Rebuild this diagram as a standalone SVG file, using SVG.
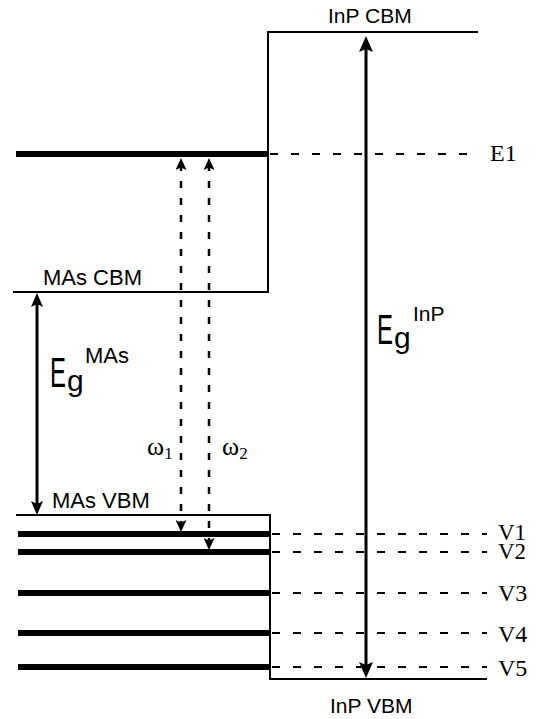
<svg xmlns="http://www.w3.org/2000/svg" width="540" height="719" viewBox="0 0 540 719">
<style>
.sans{font-family:"Liberation Sans",Arial,sans-serif;fill:#000}
.serif{font-family:"Liberation Serif","Times New Roman",serif;fill:#000}
.band{fill:none;stroke:#000;stroke-width:2}
.level{stroke:#000;stroke-width:6}
.dash{stroke:#000;stroke-width:2;stroke-dasharray:8 13}
.gap{stroke:#000;stroke-width:3;fill:none}
.omega{stroke:#000;stroke-width:2.5;stroke-dasharray:7 10;fill:none}
</style>
<defs>
<marker id="ahBig" viewBox="0 0 16 14" refX="8" refY="7" markerWidth="16" markerHeight="14" markerUnits="userSpaceOnUse" orient="auto-start-reverse">
<path d="M0,0 L16,7 L0,14 L3,7 z" fill="#000"/>
</marker>
<marker id="ahMid" viewBox="0 0 14 12" refX="7" refY="6" markerWidth="14" markerHeight="12" markerUnits="userSpaceOnUse" orient="auto-start-reverse">
<path d="M0,0 L14,6 L0,12 L3,6 z" fill="#000"/>
</marker>
<marker id="ahSmall" viewBox="0 0 12 11" refX="6" refY="5.5" markerWidth="12" markerHeight="11" markerUnits="userSpaceOnUse" orient="auto-start-reverse">
<path d="M0,0 L12,5.5 L0,11 L2.5,5.5 z" fill="#000"/>
</marker>
</defs>
<rect width="540" height="719" fill="#fff"/>

<g id="inp-cbm">
<path class="band" d="M13,292 H268 V32 H478"/>
<text class="sans" x="328" y="23" font-size="21">InP CBM</text>
</g>
<g id="mas-cbm">
<text class="sans" x="43" y="285" font-size="22">MAs CBM</text>
</g>
<g id="inp-vbm">
<path class="band" d="M16,515 H270 V679 H487"/>
<text class="sans" x="330" y="713" font-size="21">InP VBM</text>
</g>
<g id="mas-vbm">
<text class="sans" x="52" y="508" font-size="22">MAs VBM</text>
</g>

<g id="E1">
<line class="level" x1="16" y1="154" x2="268" y2="154"/>
<line class="dash" x1="270" y1="154" x2="478" y2="154"/>
<text class="serif" x="490" y="161" font-size="24">E1</text>
</g>
<g id="V1">
<line class="level" x1="18" y1="534" x2="270" y2="534"/>
<line class="dash" x1="272" y1="534" x2="487" y2="534"/>
<text class="serif" x="498" y="540" font-size="23">V1</text>
</g>
<g id="V2">
<line class="level" x1="18" y1="552" x2="270" y2="552"/>
<line class="dash" x1="272" y1="552" x2="487" y2="552"/>
<text class="serif" x="498" y="559" font-size="23">V2</text>
</g>
<g id="V3">
<line class="level" x1="18" y1="593" x2="270" y2="593"/>
<line class="dash" x1="272" y1="593" x2="487" y2="593"/>
<text class="serif" x="498" y="601" font-size="24">V3</text>
</g>
<g id="V4">
<line class="level" x1="18" y1="633" x2="270" y2="633"/>
<line class="dash" x1="272" y1="633" x2="487" y2="633"/>
<text class="serif" x="498" y="642" font-size="24">V4</text>
</g>
<g id="V5">
<line class="level" x1="18" y1="667" x2="270" y2="667"/>
<line class="dash" x1="272" y1="667" x2="487" y2="667"/>
<text class="serif" x="498" y="676" font-size="24">V5</text>
</g>

<g id="connectors">
<line class="gap" x1="366" y1="44" x2="366" y2="670" marker-start="url(#ahBig)" marker-end="url(#ahBig)"/>
<line class="gap" x1="37" y1="300" x2="37" y2="508" marker-start="url(#ahMid)" marker-end="url(#ahMid)"/>
<line class="omega" x1="181" y1="164" x2="181" y2="526" marker-start="url(#ahSmall)" marker-end="url(#ahSmall)"/>
<line class="omega" x1="209" y1="164" x2="209" y2="544" marker-start="url(#ahSmall)" marker-end="url(#ahSmall)"/>
</g>

<g id="label-eg-mas">
<text class="sans" transform="translate(50,387) scale(0.57,1)" font-size="42">E</text>
<text class="sans" x="67" y="391" font-size="30">g</text>
<text class="sans" x="85" y="363" font-size="22">MAs</text>
</g>
<g id="label-eg-inp">
<text class="sans" transform="translate(377,344) scale(0.57,1)" font-size="42">E</text>
<text class="sans" x="394" y="348" font-size="30">g</text>
<text class="sans" x="413" y="321" font-size="21">InP</text>
</g>
<g id="label-omega1">
<text class="serif" x="147" y="455" font-size="26">ω<tspan font-size="17" dy="4">1</tspan></text>
</g>
<g id="label-omega2">
<text class="serif" x="222" y="455" font-size="26">ω<tspan font-size="17" dy="4">2</tspan></text>
</g>
</svg>
